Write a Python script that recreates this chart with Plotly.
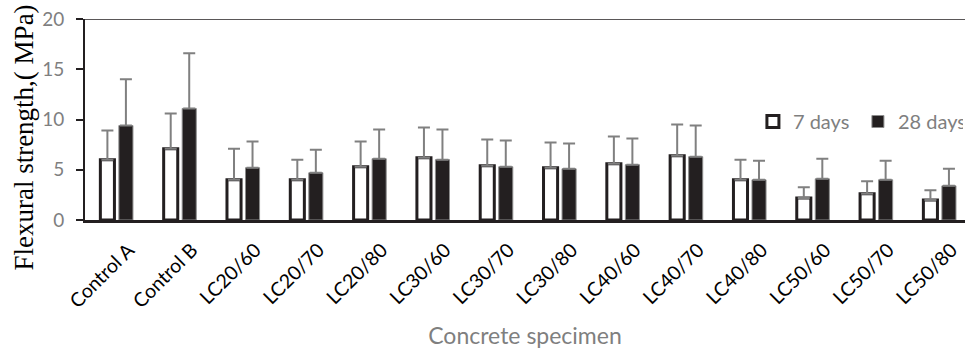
import plotly.graph_objects as go

# Specimen groups along the category axis
specimens = ["Control A", "Control B", "LC20/60", "LC20/70", "LC20/80",
             "LC30/60", "LC30/70", "LC30/80", "LC40/60", "LC40/70",
             "LC40/80", "LC50/60", "LC50/70", "LC50/80"]

# Mean flexural strength (MPa) and standard deviation, 7-day cure
strength_7d = [6.0, 7.1, 4.0, 4.0, 5.3, 6.2, 5.4, 5.2, 5.6, 6.4, 4.0, 2.2, 2.6, 2.0]
sd_7d = [2.9, 3.5, 3.1, 2.0, 2.5, 3.0, 2.6, 2.5, 2.7, 3.1, 2.0, 1.05, 1.25, 0.95]

# Mean flexural strength (MPa) and standard deviation, 28-day cure
strength_28d = [9.4, 11.1, 5.2, 4.7, 6.1, 6.0, 5.3, 5.1, 5.5, 6.3, 4.0, 4.1, 4.0, 3.4]
sd_28d = [4.6, 5.5, 2.6, 2.3, 2.9, 3.0, 2.6, 2.5, 2.6, 3.1, 1.9, 2.0, 1.9, 1.7]

y_ticks = [0, 5, 10, 15, 20]

DARK = "#231f20"
GREY = "#808080"
TXT_GREY = "#7f7f7f"
FONT = "Lato"

fig = go.Figure()
fig.add_trace(go.Bar(
    name="7 days", x=specimens, y=strength_7d,
    marker=dict(color="white", line=dict(color=DARK, width=3)),
    error_y=dict(type="data", array=sd_7d, arrayminus=[0] * len(sd_7d),
                 symmetric=False, color=GREY, thickness=2, width=6),
))
fig.add_trace(go.Bar(
    name="28 days", x=specimens, y=strength_28d,
    marker=dict(color=DARK, line=dict(color="#8c8c8c", width=1)),
    error_y=dict(type="data", array=sd_28d, arrayminus=[0] * len(sd_28d),
                 symmetric=False, color=GREY, thickness=2, width=6),
))

# Upper frame line at the top of the value range
fig.add_shape(type="line", xref="paper", yref="y", x0=-0.007, x1=1, y0=20, y1=20,
              line=dict(color=DARK, width=1.5))

fig.add_annotation(
    text="Flexural strength,( MPa)", textangle=-90,
    xref="paper", yref="paper", x=0, y=0.41, xanchor="center", yanchor="middle",
    xshift=-61, showarrow=False,
    font=dict(family="Liberation Serif", size=27, color="black"),
)

fig.update_layout(
    width=965, height=349,
    margin=dict(l=85, r=0, t=19, b=129, autoexpand=False),
    paper_bgcolor="white", plot_bgcolor="white",
    barmode="group", bargap=0.415, bargroupgap=0.24,
    font=dict(family=FONT, color=TXT_GREY),
    legend=dict(orientation="h", x=0.759, y=0.49, xanchor="left", yanchor="middle",
                font=dict(family=FONT, size=20, color=TXT_GREY),
                bgcolor="rgba(0,0,0,0)", itemwidth=30, tracegroupgap=0,
                entrywidth=60, entrywidthmode="pixels"),
    xaxis=dict(
        range=[-0.5, 13.4], tickangle=-45, showgrid=False, automargin=False,
        showline=True, linecolor=DARK, linewidth=3, ticks="",
        ticklabelstandoff=8, ticklabelshift=12,
        tickfont=dict(family=FONT, size=19.5, color="black"),
        title=dict(text="Concrete specimen", standoff=28,
                   font=dict(family=FONT, size=23, color=TXT_GREY)),
    ),
    yaxis=dict(
        range=[0, 20], tickvals=y_ticks, showgrid=False, zeroline=False,
        automargin=False,
        showline=True, linecolor=DARK, linewidth=2,
        ticks="outside", ticklen=7, tickwidth=2, tickcolor=DARK,
        ticklabelstandoff=8,
        tickfont=dict(family=FONT, size=19, color=TXT_GREY),
    ),
)

fig.write_html("out.html")
